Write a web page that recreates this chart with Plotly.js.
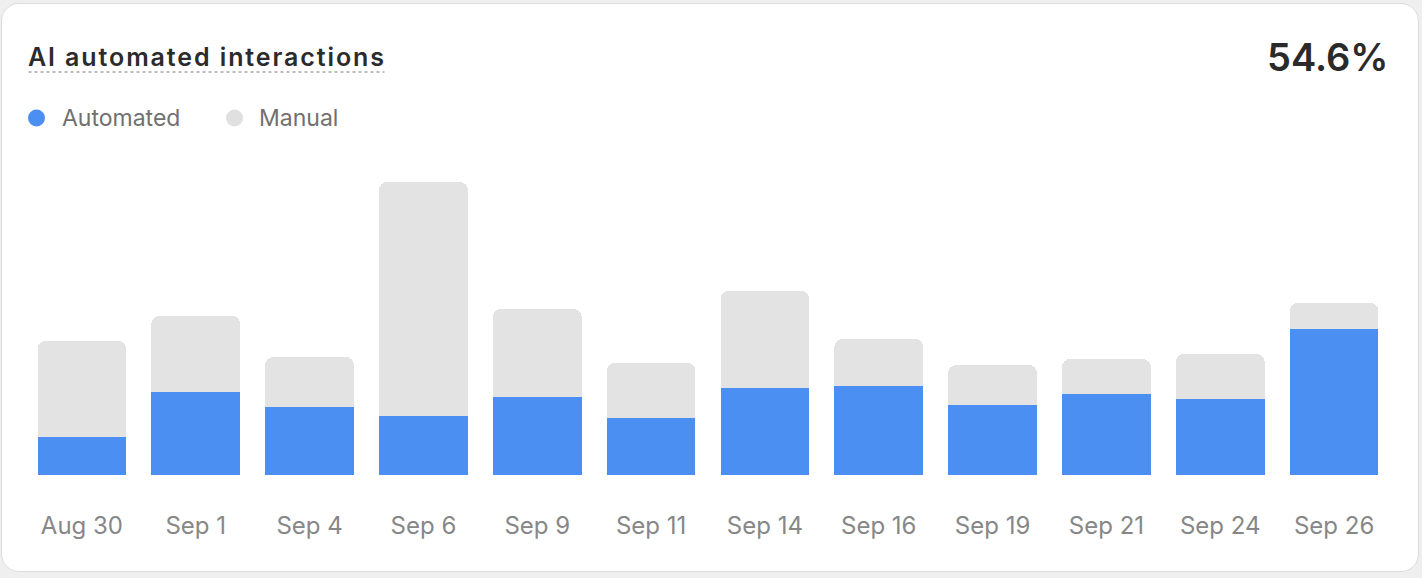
<!DOCTYPE html>
<html>
<head>
<meta charset="utf-8">
<script src="https://cdn.plot.ly/plotly-3.0.1.min.js"></script>
<style>
  html, body { margin: 0; padding: 0; background: #efefef; width: 1422px; height: 578px; overflow: hidden; }
  #card {
    position: absolute; left: 1px; top: 3px; width: 1416px; height: 567px;
    background: #fff; border: 1px solid #dcdcdc; border-radius: 18px;
  }
  #chart { position: absolute; left: 0; top: 0; width: 1422px; height: 578px; }
  /* the title is tracked a little wider than the default */
  #chart .annotation[data-index="0"] text { letter-spacing: 1.9px; }
</style>
</head>
<body>
<div id="card"></div>
<div id="chart"></div>
<script>
// daily interaction counts
var days = ["Aug 30", "Sep 1", "Sep 4", "Sep 6", "Sep 9", "Sep 11",
            "Sep 14", "Sep 16", "Sep 19", "Sep 21", "Sep 24", "Sep 26"];
var automated = [38, 83, 68, 59, 78, 57, 87, 89, 70, 81, 76, 146];
var manual    = [96, 76, 50, 234, 88, 55, 97, 47, 40, 35, 45, 26];

var automatedShare = "54.6%";

var blue = "#4a8ff1";
var grey = "#e3e3e3";
var font = "Inter, 'Noto Sans', sans-serif";

var automatedBars = {
    x: days,
    y: automated,
    type: "bar",
    name: "Automated",
    marker: { color: blue },
    hoverinfo: "x+y+name"
};

var manualBars = {
    x: days,
    y: manual,
    type: "bar",
    name: "Manual",
    marker: { color: grey },
    hoverinfo: "x+y+name"
};

var layout = {
    width: 1422,
    height: 578,
    margin: { l: 24.5, r: 30.5, t: 175, b: 103 },
    paper_bgcolor: "rgba(0,0,0,0)",
    plot_bgcolor: "rgba(0,0,0,0)",
    barmode: "stack",
    bargap: 0.22,
    barcornerradius: 8,
    showlegend: false,
    xaxis: {
        type: "category",
        showgrid: false,
        zeroline: false,
        showline: false,
        ticks: "",
        ticklabelstandoff: 34,
        tickfont: { family: font, size: 24, color: "#878787" }
    },
    yaxis: {
        range: [0, 300],
        visible: false,
        fixedrange: true
    },
    annotations: [
        {
            xref: "paper", yref: "paper", x: 0, y: 1,
            xanchor: "left", yanchor: "middle", align: "left",
            text: "AI automated interactions",
            showarrow: false,
            font: { family: font, size: 25, weight: 600, color: "#2b2b2b" },
            xshift: 0.5, yshift: 175 - 57
        },
        {
            xref: "paper", yref: "paper", x: 1, y: 1,
            xanchor: "right", yanchor: "middle",
            text: automatedShare,
            showarrow: false,
            font: { family: font, size: 38, weight: 600, color: "#2a2a2a" },
            xshift: -1, yshift: 175 - 57
        },
        {
            xref: "paper", yref: "paper", x: 0, y: 1,
            xanchor: "left", yanchor: "middle",
            text: "Automated",
            showarrow: false,
            font: { family: font, size: 23, color: "#707070" },
            xshift: 35, yshift: 175 - 118
        },
        {
            xref: "paper", yref: "paper", x: 0, y: 1,
            xanchor: "left", yanchor: "middle",
            text: "Manual",
            showarrow: false,
            font: { family: font, size: 23, color: "#707070" },
            xshift: 232, yshift: 175 - 118
        }
    ],
    shapes: [
        // dotted underline under the title
        {
            type: "line", xref: "paper", yref: "paper",
            xsizemode: "pixel", ysizemode: "pixel",
            xanchor: 0, yanchor: 1,
            x0: 3.5, x1: 359.5, y0: 175 - 72, y1: 175 - 72,
            line: { color: "#bdbdbd", width: 2, dash: "dot" }
        },
        // legend dots
        {
            type: "circle", xref: "paper", yref: "paper",
            xsizemode: "pixel", ysizemode: "pixel",
            xanchor: 0, yanchor: 1,
            x0: 36 - 24.5 - 8.5, x1: 36 - 24.5 + 8.5,
            y0: 175 - 118 - 8.5, y1: 175 - 118 + 8.5,
            fillcolor: blue, line: { width: 0 }
        },
        {
            type: "circle", xref: "paper", yref: "paper",
            xsizemode: "pixel", ysizemode: "pixel",
            xanchor: 0, yanchor: 1,
            x0: 234 - 24.5 - 8.5, x1: 234 - 24.5 + 8.5,
            y0: 175 - 118 - 8.5, y1: 175 - 118 + 8.5,
            fillcolor: "#e0e0e0", line: { width: 0 }
        }
    ]
};

Plotly.newPlot("chart", [automatedBars, manualBars], layout, { displayModeBar: false });
</script>
</body>
</html>
